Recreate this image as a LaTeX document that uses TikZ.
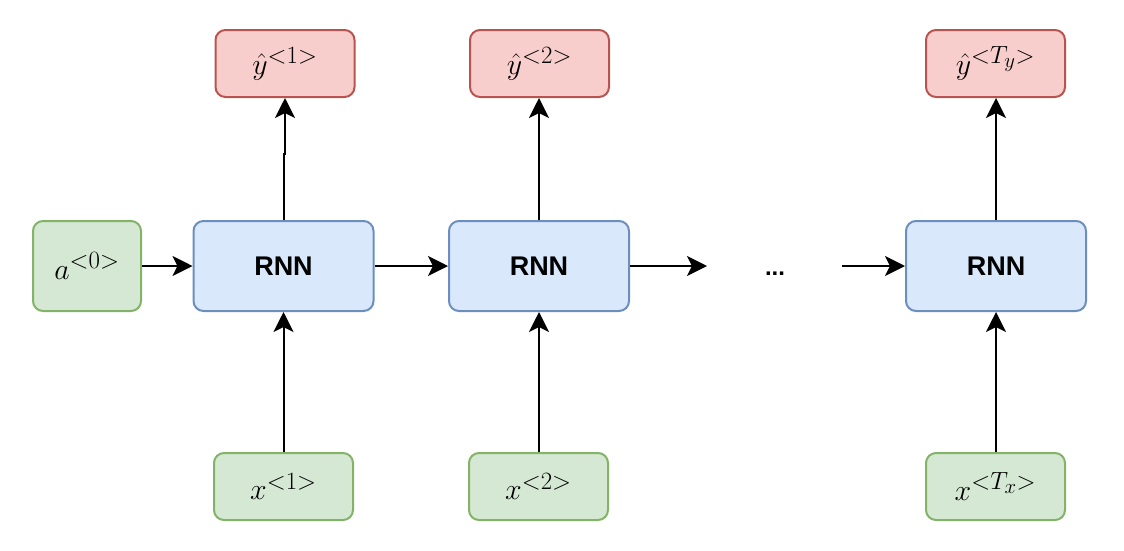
\documentclass[tikz,border=0pt]{standalone}
\usepackage{graphicx}
\usepackage{fontspec}
\newfontfamily\labelfont{Liberation Sans}
\usetikzlibrary{arrows.meta}
\definecolor{gfill}{HTML}{D5E8D4}\definecolor{gline}{HTML}{82B366}
\definecolor{bfill}{HTML}{DAE8FC}\definecolor{bline}{HTML}{6C8EBF}
\definecolor{rfill}{HTML}{F8CECC}\definecolor{rline}{HTML}{B85450}
\newcommand{\bigmath}[1]{\scalebox{1.2}{$#1$}}
\tikzset{
  box/.style={draw, line width=2pt, rounded corners=10pt, inner sep=0pt, font=\fontsize{24.88}{30}\selectfont},
  inbox/.style={box, fill=gfill, draw=gline, minimum width=139pt, minimum height=67pt},
  outbox/.style={box, fill=rfill, draw=rline, minimum width=139pt, minimum height=67pt},
  cell/.style={box, fill=bfill, draw=bline, minimum width=180pt, minimum height=90pt,
    font=\labelfont\bfseries\fontsize{27}{30}\selectfont},
  flow/.style={line width=2pt, -{Stealth[length=20pt, width=20pt, inset=5pt]}}
}
\begin{document}
\begin{tikzpicture}[x=1pt, y=-1pt]
\useasboundingbox (0,0) rectangle (1124,550);
% initial activation
\node[inbox, minimum width=108pt, minimum height=90pt] (a0) at (87,266) {\bigmath{a^{<0>}}};
% recurrent cells
\node[cell] (r1) at (283.5,266) {RNN};
\node[cell] (r2) at (539,266) {RNN};
\node[cell] (r3) at (996,266) {RNN};
\node[font=\labelfont\bfseries\fontsize{24}{28}\selectfont] (dots) at (775,274) {...};
% outputs
\node[outbox] (y1) at (285,63.5) {\bigmath{\hat{y}^{<1>}}};
\node[outbox] (y2) at (539.5,63.5) {\bigmath{\hat{y}^{<2>}}};
\node[outbox] (y3) at (995.5,63.5) {\bigmath{\hat{y}^{<T_y>}}};
% inputs
\node[inbox] (x1) at (283.5,486.5) {\bigmath{x^{<1>}}};
\node[inbox] (x2) at (538.5,486.5) {\bigmath{x^{<2>}}};
\node[inbox] (x3) at (995.5,486.5) {\bigmath{x^{<T_x>}}};
% loose ends around the ellipsis
\coordinate (d1) at (707,266);
\coordinate (d2) at (842,266);
% horizontal flow
\draw[flow] (a0.east) -- (r1.west);
\draw[flow] (r1.east) -- (r2.west);
\draw[flow] (r2.east) -- (d1);
\draw[flow] (d2) -- (r3.west);
% inputs to cells
\draw[flow] (x1.north -| r1) -- (r1.south);
\draw[flow] (x2.north -| r2) -- (r2.south);
\draw[flow] (x3.north -| r3) -- (r3.south);
% cells to outputs
\draw[flow] (r1.north) -- ++(0,-66) -| (y1.south);
\draw[flow] (r2.north) -- (y2.south -| r2);
\draw[flow] (r3.north) -- (y3.south -| r3);
\end{tikzpicture}
\end{document}
